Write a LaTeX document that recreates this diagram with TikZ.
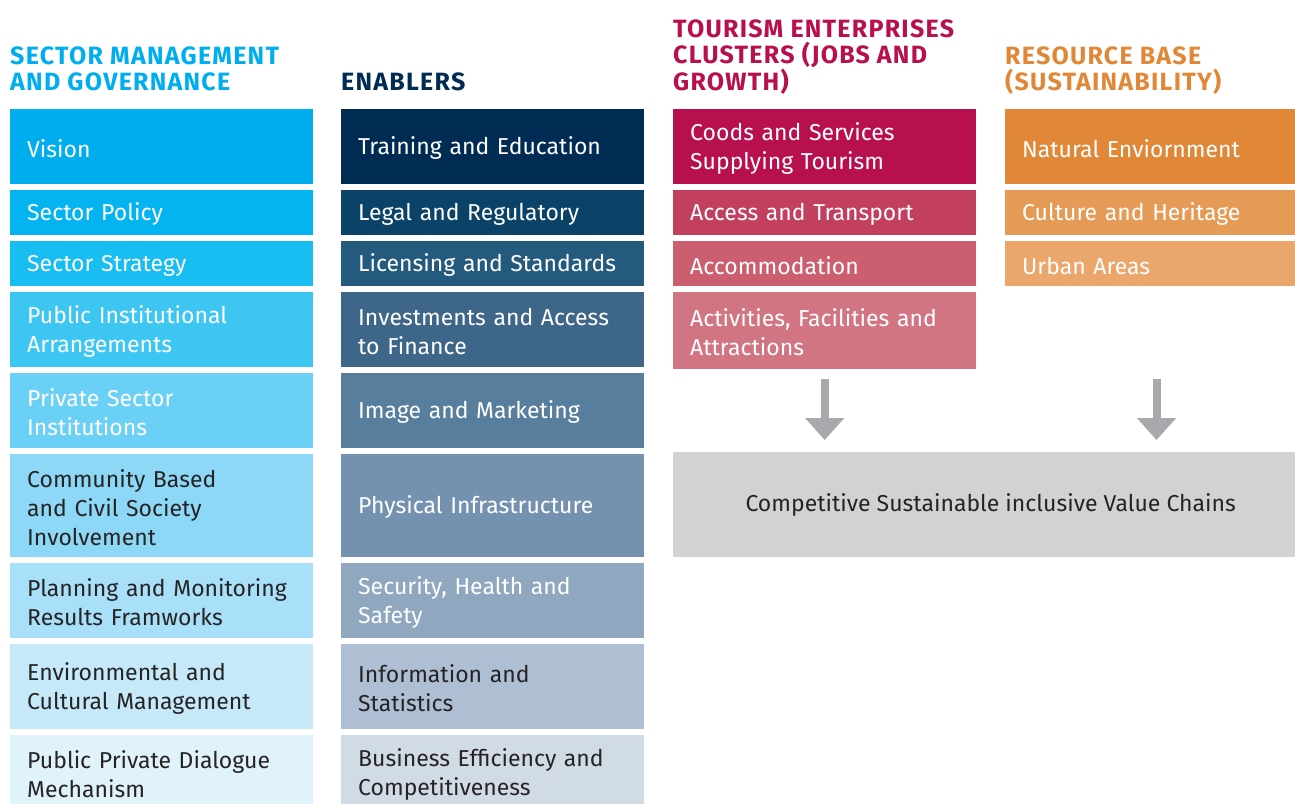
\documentclass[tikz,border=0pt]{standalone}
\usepackage{fontspec}
\setmainfont{Fira Sans}
\usetikzlibrary{arrows.meta}

% column colours
\definecolor{govA}{HTML}{00AEEF}
\definecolor{govB}{HTML}{03B4F1}
\definecolor{govC}{HTML}{18BDF1}
\definecolor{govD}{HTML}{3EC6F3}
\definecolor{govE}{HTML}{6BD0F5}
\definecolor{govF}{HTML}{8DD8F7}
\definecolor{govG}{HTML}{A9E0F9}
\definecolor{govH}{HTML}{C5E9F9}
\definecolor{govI}{HTML}{E0F3FB}
\definecolor{enaA}{HTML}{002C54}
\definecolor{enaB}{HTML}{0A4268}
\definecolor{enaC}{HTML}{245A7E}
\definecolor{enaD}{HTML}{3E6689}
\definecolor{enaE}{HTML}{587E9E}
\definecolor{enaF}{HTML}{7491AF}
\definecolor{enaG}{HTML}{8FA7BF}
\definecolor{enaH}{HTML}{AEBFD4}
\definecolor{enaI}{HTML}{D0DBE6}
\definecolor{touA}{HTML}{B80F4E}
\definecolor{touB}{HTML}{C2405E}
\definecolor{touC}{HTML}{CB5F70}
\definecolor{touD}{HTML}{D27582}
\definecolor{resA}{HTML}{E08838}
\definecolor{resB}{HTML}{E59A56}
\definecolor{resC}{HTML}{EBA66C}
\definecolor{valgrey}{HTML}{D1D2D4}
\definecolor{arrowgrey}{HTML}{A7A9AC}
\definecolor{inkdark}{HTML}{262324}

\begin{document}
\begin{tikzpicture}[x=1pt, y=-1pt,
    cell/.style={rectangle, anchor=north west, inner xsep=17pt, inner ysep=0pt,
        minimum width=303pt, text width=269pt, align=left, text=white,
        font=\fontsize{23}{29}\selectfont,
        execute at begin node={\hyphenpenalty=10000\exhyphenpenalty=10000\rule{0pt}{21pt}}},
    tall/.style={minimum height=75pt},
    short/.style={minimum height=45pt},
    dark/.style={text=inkdark},
    heading/.style={anchor=north west, inner sep=0pt, align=left,
        font=\fontsize{25}{26.5}\selectfont\bfseries\addfontfeatures{LetterSpace=5}},
    flow/.style={draw=arrowgrey, line width=8pt, -{Triangle[width=38pt, length=22pt]}}]

    \useasboundingbox (0,0) rectangle (1295,803);
    \clip (0,0) rectangle (1295,803);

    % --- headings ---
    \node[heading, text=govA] (govhead) at (10,46.5) {SECTOR MANAGEMENT\\AND GOVERNANCE};
    \node[heading, text=enaA] (enahead) at (341,72.5) {ENABLERS};
    \node[heading, text=touA] (touhead) at (673,19.5) {TOURISM ENTERPRISES\\CLUSTERS (JOBS AND\\GROWTH)};
    \node[heading, text=resA] (reshead) at (1005,46.5) {RESOURCE BASE\\(SUSTAINABILITY)};

    % --- sector management and governance ---
    \node[cell, tall, fill=govA] (vision) at (10,109) {Vision};
    \node[cell, short, fill=govB] (policy) at (10,190) {Sector Policy};
    \node[cell, short, fill=govC] (strategy) at (10,241) {Sector Strategy};
    \node[cell, tall, fill=govD] (public) at (10,292) {Public Institutional\\Arrangements};
    \node[cell, tall, fill=govE] (private) at (10,373) {Private Sector\\Institutions};
    \node[cell, dark, minimum height=103pt, fill=govF] (community) at (10,454) {Community Based\\and Civil Society\\Involvement};
    \node[cell, dark, tall, fill=govG] (planning) at (10,563) {Planning and Monitoring\\Results Framworks};
    \node[cell, dark, minimum height=85pt, fill=govH] (environment) at (10,644) {Environmental and\\Cultural Management};
    \node[cell, dark, tall, fill=govI] (dialogue) at (10,735) {Public Private Dialogue\\Mechanism};

    % --- enablers ---
    \node[cell, tall, fill=enaA] (training) at (341,109) {Training and Education};
    \node[cell, short, fill=enaB] (legal) at (341,190) {Legal and Regulatory};
    \node[cell, short, fill=enaC] (licensing) at (341,241) {Licensing and Standards};
    \node[cell, tall, fill=enaD] (investment) at (341,292) {Investments and Access\\to Finance};
    \node[cell, tall, fill=enaE] (image) at (341,373) {Image and Marketing};
    \node[cell, minimum height=103pt, fill=enaF] (physical) at (341,454) {Physical Infrastructure};
    \node[cell, tall, fill=enaG] (security) at (341,563) {Security, Health and\\Safety};
    \node[cell, dark, minimum height=85pt, fill=enaH] (information) at (341,644) {Information and\\Statistics};
    \node[cell, dark, tall, fill=enaI] (business) at (341,735) {Business Efficiency and\\Competitiveness};

    % --- tourism enterprises clusters ---
    \node[cell, tall, fill=touA] (goods) at (673,109) {Coods and Services\\Supplying Tourism};
    \node[cell, short, fill=touB] (access) at (673,190) {Access and Transport};
    \node[cell, short, fill=touC] (accommodation) at (673,241) {Accommodation};
    \node[cell, minimum height=77pt, fill=touD] (activities) at (673,292) {Activities, Facilities and\\Attractions};

    % --- resource base ---
    \node[cell, tall, fill=resA] (natural) at (1005,109) {Natural Enviornment};
    \node[cell, short, fill=resB] (culture) at (1005,190) {Culture and Heritage};
    \node[cell, short, fill=resC] (urban) at (1005,241) {Urban Areas};

    % --- value chains ---
    \node[rectangle, anchor=north west, fill=valgrey, text=inkdark, minimum width=635pt,
        minimum height=105pt, font=\fontsize{23}{29}\selectfont] (value) at (673,452)
        {Competitive Sustainable inclusive Value Chains};

    % arrows
    \coordinate (resflow) at (1156.5,379);
    \draw[flow] ([yshift=-10pt]activities.south) -- ([yshift=12pt]activities.south |- value.north);
    \draw[flow] (resflow) -- ([yshift=12pt]resflow |- value.north);

\end{tikzpicture}
\end{document}
